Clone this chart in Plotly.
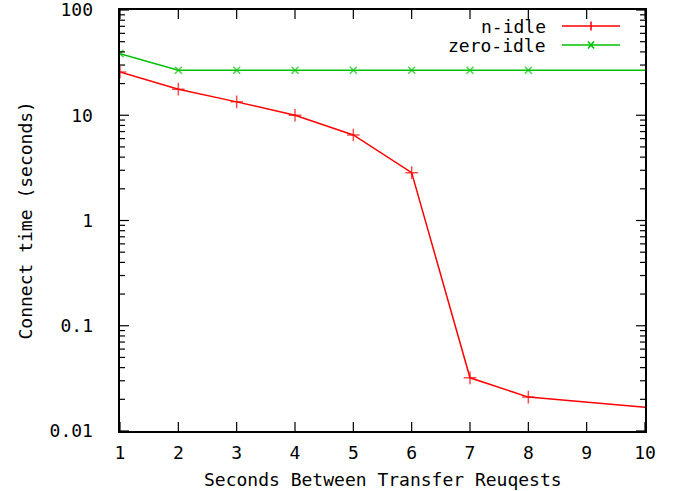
import math
import plotly.graph_objects as go

x_vals = [1, 2, 3, 4, 5, 6, 7, 8, 10]
n_idle = [25.8, 17.7, 13.4, 10.0, 6.5, 2.85, 0.032, 0.021, 0.0168]
zero_idle = [38.5, 26.8, 26.8, 26.8, 26.8, 26.8, 26.8, 26.8, 26.8]
marker_shown = [1, 1, 1, 1, 1, 1, 1, 1, 0]

x_ticks = [1, 2, 3, 4, 5, 6, 7, 8, 9, 10]
y_major = [0.01, 0.1, 1, 10, 100]
y_minor = [m * 10 ** e for e in [-2, -1, 0, 1] for m in range(2, 10)]

RED = "#ff0000"
GREEN = "#00c000"
FONT = "DejaVu Sans Mono"
FS = 18
LEFT, RIGHT, TOP, BOT = 120, 645, 10, 431
W, H = 688, 491
X_RANGE = [1, 10]
Y_RANGE = [-2, 2]


def px(xp):
    return (xp - LEFT) / (RIGHT - LEFT)


def py(yp):
    return (BOT - yp) / (BOT - TOP)


fig = go.Figure()
fig.add_trace(go.Scatter(
    x=x_vals, y=n_idle, mode="lines+markers", name="n-idle",
    line=dict(color=RED, width=1.5),
    marker=dict(symbol="cross-thin", size=[9 * m for m in marker_shown],
                line=dict(color=RED, width=1.5), color=RED),
    showlegend=False))
fig.add_trace(go.Scatter(
    x=x_vals, y=zero_idle, mode="lines+markers", name="zero-idle",
    line=dict(color=GREEN, width=1.5),
    marker=dict(symbol="x-thin", size=[7 * m for m in marker_shown],
                line=dict(color=GREEN, width=1.5), color=GREEN),
    showlegend=False))

# gnuplot-style legend (key) drawn with shapes and annotations
for name, col, kind, ypix in [("n-idle", RED, "+", 26), ("zero-idle", GREEN, "x", 45)]:
    ln = dict(color=col, width=1.5)
    fig.add_shape(type="line", xref="paper", yref="paper",
                  x0=px(562), x1=px(620), y0=py(ypix), y1=py(ypix), line=ln)
    if kind == "+":
        fig.add_shape(type="line", xref="paper", yref="paper",
                      x0=px(591), x1=px(591), y0=py(ypix - 4.5), y1=py(ypix + 4.5), line=ln)
    else:
        fig.add_shape(type="line", xref="paper", yref="paper",
                      x0=px(588), x1=px(594), y0=py(ypix - 3.5), y1=py(ypix + 3.5), line=ln)
        fig.add_shape(type="line", xref="paper", yref="paper",
                      x0=px(588), x1=px(594), y0=py(ypix + 3.5), y1=py(ypix - 3.5), line=ln)
    fig.add_annotation(x=px(548), y=py(ypix), xref="paper", yref="paper", text=name,
                       showarrow=False, xanchor="right", yanchor="middle",
                       font=dict(family=FONT, size=FS, color="black"))

# gnuplot-style inward ticks on all four sides, derived from the tick lists
tick_line = dict(color="black", width=1.2)
MAJ, MIN = 9, 5
for v in x_ticks:
    xp = (v - X_RANGE[0]) / (X_RANGE[1] - X_RANGE[0])
    fig.add_shape(type="line", xref="paper", yref="paper", x0=xp, x1=xp,
                  y0=0, y1=MAJ / (BOT - TOP), line=tick_line)
    fig.add_shape(type="line", xref="paper", yref="paper", x0=xp, x1=xp,
                  y0=1, y1=1 - MAJ / (BOT - TOP), line=tick_line)
for vals, ln_len in [(y_major, MAJ), (y_minor, MIN)]:
    for v in vals:
        yp = (math.log10(v) - Y_RANGE[0]) / (Y_RANGE[1] - Y_RANGE[0])
        fig.add_shape(type="line", xref="paper", yref="paper", x0=0, x1=ln_len / (RIGHT - LEFT),
                      y0=yp, y1=yp, line=tick_line)
        fig.add_shape(type="line", xref="paper", yref="paper", x0=1, x1=1 - ln_len / (RIGHT - LEFT),
                      y0=yp, y1=yp, line=tick_line)

fig.update_layout(
    width=W, height=H,
    margin=dict(l=LEFT, r=W - RIGHT, t=TOP, b=H - BOT, autoexpand=False),
    paper_bgcolor="white", plot_bgcolor="white",
    font=dict(family=FONT, size=FS, color="black"),
    xaxis=dict(range=X_RANGE, tickvals=x_ticks, ticks="",
               mirror=True, showline=True, linecolor="black", linewidth=1.5,
               showgrid=False, zeroline=False, automargin=False, ticklabelstandoff=5,
               ticklabeloverflow="allow"),
    yaxis=dict(type="log", range=Y_RANGE, tick0=0, dtick=1, exponentformat="none",
               ticks="",
               mirror=True, showline=True, linecolor="black", linewidth=1.5,
               showgrid=False, zeroline=False, automargin=False, ticksuffix="  ",
               ticklabeloverflow="allow"),
    showlegend=False,
)
fig.add_annotation(x=0.5, y=py(479), xref="paper", yref="paper",
                   text="Seconds Between Transfer Reuqests",
                   showarrow=False, xanchor="center", yanchor="middle",
                   font=dict(family=FONT, size=FS))
fig.add_annotation(x=px(25), y=0.5, xref="paper", yref="paper",
                   text="Connect time (seconds)", textangle=-90,
                   showarrow=False, xanchor="center", yanchor="middle",
                   font=dict(family=FONT, size=FS))

fig.write_html("out.html")
